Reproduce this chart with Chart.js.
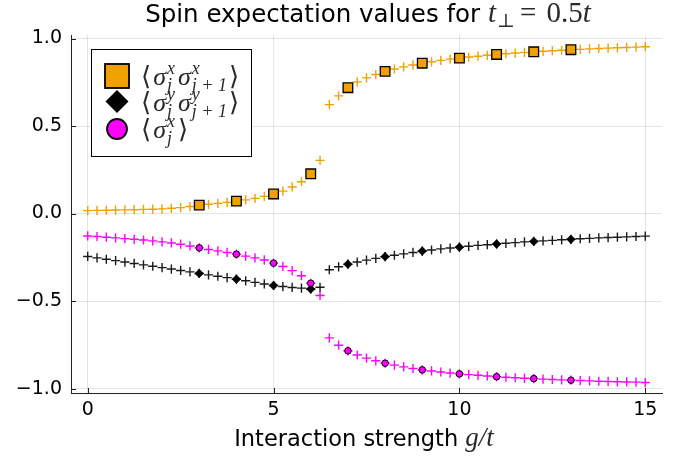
<!DOCTYPE html>
<html>
<head>
<meta charset="utf-8">
<script src="https://cdn.jsdelivr.net/npm/chart.js@4.4.0/dist/chart.umd.min.js"></script>
<style>
  html, body { margin: 0; padding: 0; background: #fff; }
  #chart { display: block; }
</style>
</head>
<body>
<canvas id="chart" width="689" height="460"></canvas>
<script>
// Coupling values below and above the jump
const gLow = [0, 0.25, 0.5, 0.75, 1, 1.25, 1.5, 1.75, 2, 2.25, 2.5, 2.75, 3, 3.25, 3.5, 3.75,
  4, 4.25, 4.5, 4.75, 5, 5.25, 5.5, 5.75, 6, 6.25];
const gHigh = [6.5, 6.75, 7, 7.25, 7.5, 7.75, 8, 8.25, 8.5, 8.75, 9, 9.25, 9.5, 9.75, 10, 10.25,
  10.5, 10.75, 11, 11.25, 11.5, 11.75, 12, 12.25, 12.5, 12.75, 13, 13.25, 13.5, 13.75, 14,
  14.25, 14.5, 14.75, 15];

// <sx_j sx_j+1>
const xxLow = [0.017, 0.018, 0.019, 0.020, 0.021, 0.022, 0.024, 0.025, 0.027, 0.030, 0.034, 0.040,
  0.048, 0.053, 0.058, 0.064, 0.071, 0.078, 0.087, 0.098, 0.112, 0.128, 0.152, 0.182, 0.227, 0.304];
const xxHigh = [0.622, 0.672, 0.719, 0.752, 0.775, 0.794, 0.812, 0.826, 0.838, 0.849, 0.859, 0.867,
  0.875, 0.882, 0.888, 0.894, 0.899, 0.904, 0.909, 0.913, 0.917, 0.921, 0.924, 0.927, 0.930,
  0.933, 0.936, 0.938, 0.941, 0.943, 0.945, 0.947, 0.949, 0.951, 0.953];

// <sy_j sy_j+1>
const yyLow = [-0.245, -0.253, -0.261, -0.269, -0.277, -0.285, -0.293, -0.301, -0.309, -0.317,
  -0.325, -0.333, -0.342, -0.350, -0.358, -0.366, -0.375, -0.384, -0.393, -0.402, -0.411,
  -0.417, -0.422, -0.426, -0.431, -0.421];
const yyHigh = [-0.321, -0.304, -0.289, -0.277, -0.266, -0.256, -0.246, -0.238, -0.230, -0.222,
  -0.214, -0.208, -0.202, -0.197, -0.192, -0.187, -0.182, -0.178, -0.174, -0.170, -0.166,
  -0.162, -0.159, -0.156, -0.153, -0.150, -0.147, -0.144, -0.142, -0.139, -0.137, -0.135,
  -0.133, -0.131, -0.129];

// <sx_j>
const xLow = [-0.128, -0.131, -0.135, -0.139, -0.143, -0.147, -0.151, -0.156, -0.162, -0.168,
  -0.175, -0.185, -0.196, -0.205, -0.213, -0.222, -0.232, -0.243, -0.253, -0.265, -0.283,
  -0.302, -0.326, -0.355, -0.398, -0.468];
const xHigh = [-0.710, -0.752, -0.784, -0.808, -0.826, -0.841, -0.855, -0.866, -0.876, -0.885,
  -0.893, -0.899, -0.905, -0.911, -0.916, -0.920, -0.924, -0.928, -0.932, -0.935, -0.938,
  -0.941, -0.943, -0.946, -0.948, -0.950, -0.952, -0.954, -0.956, -0.958, -0.959, -0.961,
  -0.962, -0.963, -0.965];

// integer couplings that get the big markers
const markerG = [3, 4, 5, 6, 7, 8, 9, 10, 11, 12, 13];

const xTicks = [0, 5, 10, 15];
const yTicks = [-1, -0.5, 0, 0.5, 1];

const ORANGE = '#f0a000';
const MAGENTA = '#ff00ff';
const BLACK = '#000000';
const SANS = '"DejaVu Sans", sans-serif';
const SERIF = '"Liberation Serif", "DejaVu Serif", serif';

function points(gs, vals) {
  return gs.map((g, i) => ({ x: g, y: vals[i] }));
}
function curve(low, high) {
  return points(gLow, low).concat(points(gHigh, high));
}
function markers(low, high) {
  const all = curve(low, high);
  return markerG.map(g => all.find(p => p.x === g));
}

function crossSet(data, color) {
  return {
    data, order: 5, pointStyle: 'cross', pointRadius: 4.6, pointHoverRadius: 4.6,
    borderColor: color, backgroundColor: color, pointBorderWidth: 1.4, showLine: false
  };
}

// text runs with sub/superscript stacks
function runWidth(ctx, runs) {
  let w = 0;
  runs.forEach(r => {
    ctx.font = r.font;
    if (r.stack) {
      w += Math.max(ctx.measureText(r.sup || '').width, ctx.measureText(r.sub || '').width) + (r.gap || 0);
    } else {
      w += ctx.measureText(r.t).width + (r.gap || 0);
    }
  });
  return w;
}
function drawRuns(ctx, runs, x, y) {
  ctx.textBaseline = 'alphabetic';
  ctx.textAlign = 'left';
  runs.forEach(r => {
    ctx.font = r.font;
    ctx.fillStyle = r.color || '#000';
    if (r.stack) {
      let w = 0;
      if (r.sup) { ctx.fillText(r.sup, x, y + r.supDy); w = ctx.measureText(r.sup).width; }
      if (r.sub) { ctx.fillText(r.sub, x, y + r.subDy); w = Math.max(w, ctx.measureText(r.sub).width); }
      x += w + (r.gap || 0);
    } else {
      ctx.fillText(r.t, x, y + (r.dy || 0));
      x += ctx.measureText(r.t).width + (r.gap || 0);
    }
  });
}

const MATH = '#2a2a2a';
const M_BIG = 'italic 26px ' + SERIF;
const M_UP = '26px ' + SERIF;
const M_SMALL = 'italic 18px ' + SERIF;

function label(supA, subA, supB, subB) {
  const runs = [
    { t: '\u27E8', font: M_UP, gap: 2, color: MATH },
    { t: 'σ', font: M_BIG, gap: 1, color: MATH },
    { stack: true, sup: supA, sub: subA, font: M_SMALL, supDy: -11, subDy: 6, gap: 3, color: MATH }
  ];
  if (supB) {
    runs.push({ t: 'σ', font: M_BIG, gap: 1, color: MATH });
    runs.push({ stack: true, sup: supB, sub: subB, font: M_SMALL, supDy: -11, subDy: 6, gap: 2, color: MATH });
  }
  runs.push({ t: '\u27E9', font: M_UP, color: MATH });
  return runs;
}

const decor = {
  id: 'decor',
  afterDraw(chart) {
    const { ctx, chartArea: a, scales: { x, y } } = chart;
    ctx.save();

    // inward tick marks
    ctx.strokeStyle = '#222';
    ctx.lineWidth = 1;
    ctx.beginPath();
    xTicks.forEach(v => {
      const px = Math.round(x.getPixelForValue(v)) + 0.5;
      ctx.moveTo(px, a.bottom); ctx.lineTo(px, a.bottom - 5);
    });
    yTicks.forEach(v => {
      const py = Math.round(y.getPixelForValue(v)) + 0.5;
      ctx.moveTo(a.left, py); ctx.lineTo(a.left + 5, py);
    });
    ctx.stroke();

    // title
    const title = [
      { t: 'Spin expectation values for ', font: '24.5px ' + SANS },
      { t: 't', font: 'italic 29px ' + SERIF, gap: 1, color: MATH },
      { t: '⊥', font: '19px ' + SERIF, dy: 5, gap: 5, color: MATH },
      { t: '= ', font: '29px ' + SERIF, gap: 3, color: MATH },
      { t: '0.5', font: '29px ' + SERIF, color: MATH },
      { t: 't', font: 'italic 29px ' + SERIF, color: MATH }
    ];
    drawRuns(ctx, title, 368 - runWidth(ctx, title) / 2, 22);

    // axis title
    const xt = [
      { t: 'Interaction strength ', font: '22.5px ' + SANS },
      { t: 'g/t', font: 'italic 27px ' + SERIF, color: MATH }
    ];
    drawRuns(ctx, xt, 364 - runWidth(ctx, xt) / 2, 446);

    // legend
    ctx.fillStyle = '#fff';
    ctx.fillRect(91, 49, 160, 107);
    ctx.strokeStyle = '#000';
    ctx.lineWidth = 1;
    ctx.strokeRect(91.5, 49.5, 160, 107);

    ctx.lineWidth = 1.8;
    ctx.fillStyle = ORANGE;
    ctx.fillRect(105, 64, 24, 24);
    ctx.strokeRect(105, 64, 24, 24);

    ctx.fillStyle = BLACK;
    ctx.beginPath();
    ctx.moveTo(117, 90); ctx.lineTo(128.5, 101.5); ctx.lineTo(117, 113); ctx.lineTo(105.5, 101.5);
    ctx.closePath();
    ctx.fill();

    ctx.fillStyle = MAGENTA;
    ctx.beginPath();
    ctx.arc(117, 129, 10, 0, Math.PI * 2);
    ctx.fill();
    ctx.stroke();

    drawRuns(ctx, label('x', 'j', 'x', 'j + 1'), 141, 85);
    drawRuns(ctx, label('y', 'j', 'y', 'j + 1'), 141, 111);
    drawRuns(ctx, label('x', 'j'), 141, 138);

    ctx.restore();
  }
};

new Chart(document.getElementById('chart'), {
  type: 'scatter',
  data: {
    datasets: [
      { data: markers(xLow, xHigh), order: 0, pointStyle: 'circle', pointRadius: 3.3, pointHoverRadius: 3.3,
        backgroundColor: MAGENTA, borderColor: BLACK, pointBorderWidth: 1 },
      { data: markers(yyLow, yyHigh), order: 1, pointStyle: 'rectRot', pointRadius: 4.4, pointHoverRadius: 4.4,
        backgroundColor: BLACK, borderColor: BLACK, pointBorderWidth: 0.5 },
      { data: markers(xxLow, xxHigh), order: 2, pointStyle: 'rect', pointRadius: 6.8, pointHoverRadius: 6.8,
        backgroundColor: ORANGE, borderColor: BLACK, pointBorderWidth: 1.3 },
      crossSet(curve(xxLow, xxHigh), ORANGE),
      crossSet(curve(yyLow, yyHigh), '#1a1a1a'),
      crossSet(curve(xLow, xHigh), MAGENTA)
    ]
  },
  options: {
    responsive: false,
    animation: false,
    events: [],
    layout: { padding: { top: 35, right: 27, left: 0, bottom: 0 } },
    plugins: { legend: { display: false }, tooltip: { enabled: false }, title: { display: false } },
    scales: {
      x: {
        type: 'linear', min: -0.45, max: 15.45,
        afterFit: s => { s.height = 67; },
        afterBuildTicks: s => { s.ticks = xTicks.map(v => ({ value: v })); },
        grid: { color: 'rgba(0,0,0,0.1)', drawTicks: false },
        border: { color: '#222', width: 1 },
        ticks: { padding: 6, color: '#000', font: { family: SANS, size: 19 }, maxRotation: 0 }
      },
      y: {
        type: 'linear', min: -1.025, max: 1.02,
        afterFit: s => { s.width = 71; },
        afterBuildTicks: s => { s.ticks = yTicks.map(v => ({ value: v })); },
        grid: { color: 'rgba(0,0,0,0.1)', drawTicks: false },
        border: { color: '#222', width: 1 },
        ticks: {
          padding: 9, color: '#000', font: { family: SANS, size: 19 },
          callback: v => (v < 0 ? '\u2212' : '') + Math.abs(v).toFixed(1)
        }
      }
    }
  },
  plugins: [decor]
});
</script>
</body>
</html>
